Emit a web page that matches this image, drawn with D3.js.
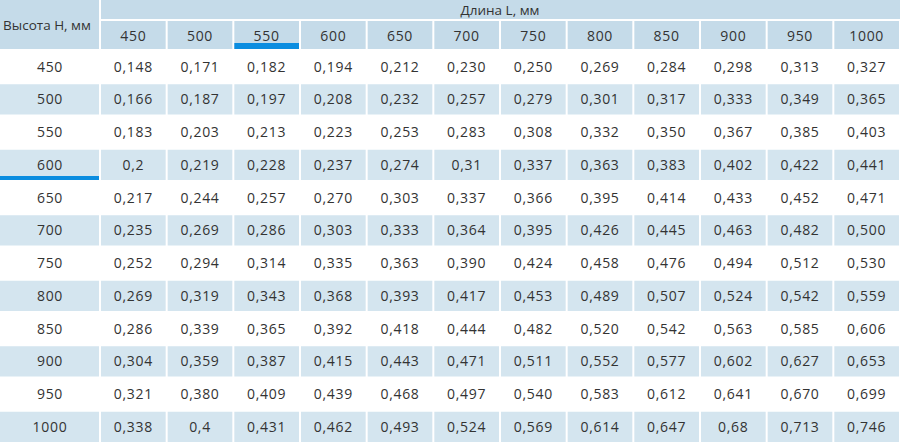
<!DOCTYPE html>
<html>
<head>
<meta charset="utf-8">
<title>Table</title>
<script src="https://d3js.org/d3.v7.min.js"></script>
<style>
  body { margin: 0; background: #fff; }
  svg { display: block; font-family: 'Open Sans', sans-serif; }
  .cell-text { fill: #333; font-size: 14px; letter-spacing: 0.7px; text-anchor: middle; }
  .head-text { fill: #333; font-size: 13.5px; text-anchor: middle; }
</style>
</head>
<body>
<script>
// column and row headers (mm)
const lengths = [450, 500, 550, 600, 650, 700, 750, 800, 850, 900, 950, 1000];
const heights = [450, 500, 550, 600, 650, 700, 750, 800, 850, 900, 950, 1000];

// values per height row, written as printed
const row450 = ["0,148","0,171","0,182","0,194","0,212","0,230","0,250","0,269","0,284","0,298","0,313","0,327"];
const row500 = ["0,166","0,187","0,197","0,208","0,232","0,257","0,279","0,301","0,317","0,333","0,349","0,365"];
const row550 = ["0,183","0,203","0,213","0,223","0,253","0,283","0,308","0,332","0,350","0,367","0,385","0,403"];
const row600 = ["0,2","0,219","0,228","0,237","0,274","0,31","0,337","0,363","0,383","0,402","0,422","0,441"];
const row650 = ["0,217","0,244","0,257","0,270","0,303","0,337","0,366","0,395","0,414","0,433","0,452","0,471"];
const row700 = ["0,235","0,269","0,286","0,303","0,333","0,364","0,395","0,426","0,445","0,463","0,482","0,500"];
const row750 = ["0,252","0,294","0,314","0,335","0,363","0,390","0,424","0,458","0,476","0,494","0,512","0,530"];
const row800 = ["0,269","0,319","0,343","0,368","0,393","0,417","0,453","0,489","0,507","0,524","0,542","0,559"];
const row850 = ["0,286","0,339","0,365","0,392","0,418","0,444","0,482","0,520","0,542","0,563","0,585","0,606"];
const row900 = ["0,304","0,359","0,387","0,415","0,443","0,471","0,511","0,552","0,577","0,602","0,627","0,653"];
const row950 = ["0,321","0,380","0,409","0,439","0,468","0,497","0,540","0,583","0,612","0,641","0,670","0,699"];
const row1000 = ["0,338","0,4","0,431","0,462","0,493","0,524","0,569","0,614","0,647","0,68","0,713","0,746"];
const values = [row450, row500, row550, row600, row650, row700, row750, row800, row850, row900, row950, row1000];

const selLength = 550, selHeight = 600;

const W = 900, H = 443;
const headFill = "#c5dbe9", rowFill = "#d4e5ef", accent = "#0b8de0";

const svg = d3.select("body").append("svg")
    .attr("width", W).attr("height", H);

// scales
const x = d3.scaleBand().domain(lengths).range([100, W]);
const y = d3.scaleBand().domain(heights).range([50, H]);
const gap = 2;

// header: left cell
svg.append("rect").attr("x", 0).attr("y", 0)
    .attr("width", x.range()[0] - 1).attr("height", 49).attr("fill", headFill);
svg.append("text").attr("class", "head-text")
    .attr("x", 47).attr("y", 25).attr("dy", "0.35em")
    .text("Высота Н, мм");

// header: top band
svg.append("rect").attr("x", x.range()[0] + 1).attr("y", 0)
    .attr("width", W - x.range()[0] - 1).attr("height", 19).attr("fill", headFill);
svg.append("text").attr("class", "head-text")
    .attr("x", (x.range()[0] + W) / 2).attr("y", 10).attr("dy", "0.35em")
    .text("Длина L, мм");

// header: length columns
const hc = svg.append("g").selectAll("g").data(lengths).join("g");
hc.append("rect")
    .attr("x", d => x(d) + gap / 2).attr("y", 21)
    .attr("width", x.bandwidth() - gap).attr("height", 28)
    .attr("fill", headFill);
hc.append("text").attr("class", "cell-text")
    .attr("x", d => x(d) + x.bandwidth() / 2).attr("y", 36).attr("dy", "0.35em")
    .text(d => d);
hc.filter(d => d === selLength).append("rect")
    .attr("x", d => x(d) + gap / 2).attr("y", 43)
    .attr("width", x.bandwidth() - gap).attr("height", 6)
    .attr("fill", accent);

// body rows
const rows = svg.append("g").selectAll("g").data(heights).join("g")
    .attr("transform", d => `translate(0,${y(d)})`);

const rh = y.bandwidth() - 2.5;
rows.filter((d, i) => i % 2 === 1).each(function () {
    const r = d3.select(this);
    r.append("rect").attr("x", 0).attr("y", 1.5)
        .attr("width", x.range()[0] - 1).attr("height", rh).attr("fill", rowFill);
    r.selectAll("rect.c").data(lengths).join("rect").attr("class", "c")
        .attr("x", d => x(d) + gap / 2).attr("y", 1.5)
        .attr("width", x.bandwidth() - gap).attr("height", rh)
        .attr("fill", rowFill);
});

rows.filter(d => d === selHeight).append("rect")
    .attr("x", 0).attr("y", 1.5 + rh - 4)
    .attr("width", x.range()[0] - 1).attr("height", 4)
    .attr("fill", accent);

const cy = 1.5 + rh / 2;
rows.append("text").attr("class", "cell-text")
    .attr("x", 50).attr("y", cy).attr("dy", "0.35em")
    .text(d => d);

rows.each(function (h, i) {
    d3.select(this).selectAll("text.v").data(values[i]).join("text")
        .attr("class", "cell-text v")
        .attr("x", (d, j) => x(lengths[j]) + x.bandwidth() / 2)
        .attr("y", cy).attr("dy", "0.35em")
        .text(d => d);
});
</script>
</body>
</html>
